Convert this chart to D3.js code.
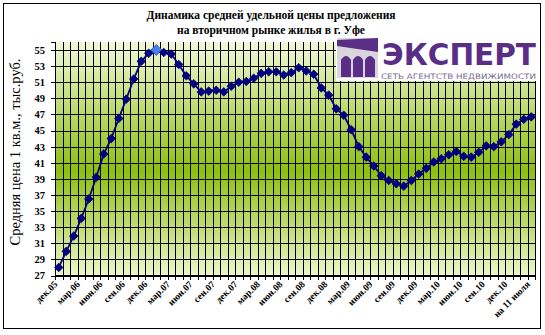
<!DOCTYPE html>
<html>
<head>
<meta charset="utf-8">
<script src="https://cdn.jsdelivr.net/npm/d3@7"></script>
<style>
  body { margin: 0; background: #fff; }
  svg { display: block; }
</style>
</head>
<body>
<script>
// chart size
var w = 545, h = 335;

// categories (months), the last one is the July 11 reading
var categories = [
    "дек.05",
    "янв.06", "фев.06", "мар.06", "апр.06", "май.06", "июн.06", "июл.06", "авг.06", "сен.06", "окт.06", "ноя.06", "дек.06",
    "янв.07", "фев.07", "мар.07", "апр.07", "май.07", "июн.07", "июл.07", "авг.07", "сен.07", "окт.07", "ноя.07", "дек.07",
    "янв.08", "фев.08", "мар.08", "апр.08", "май.08", "июн.08", "июл.08", "авг.08", "сен.08", "окт.08", "ноя.08", "дек.08",
    "янв.09", "фев.09", "мар.09", "апр.09", "май.09", "июн.09", "июл.09", "авг.09", "сен.09", "окт.09", "ноя.09", "дек.09",
    "янв.10", "фев.10", "мар.10", "апр.10", "май.10", "июн.10", "июл.10", "авг.10", "сен.10", "окт.10", "ноя.10", "дек.10",
    "мар.11", "июн.11", "на 11 июля"
];

// price per sq.m, thousand rub.
var prices = [
    28.0,
    30.0, 31.9, 34.1, 36.5, 39.2, 42.1, 44.0, 46.5, 48.9, 51.4, 53.6, 54.6,
    55.0, 54.7, 54.5, 53.2, 51.8, 50.8, 49.8, 49.9, 50.0, 49.8, 50.5, 51.0,
    51.1, 51.5, 52.1, 52.3, 52.3, 51.9, 52.2, 52.8, 52.4, 52.0, 50.3, 49.4,
    47.7, 46.9, 45.1, 43.0, 41.7, 40.6, 39.4, 38.8, 38.4, 38.1, 38.8, 39.6,
    40.3, 41.1, 41.5, 42.0, 42.4, 41.8, 41.7, 42.3, 43.1, 43.0, 43.6, 44.5,
    45.8, 46.4, 46.7
];

// labelled categories on the x axis
var xLabels = ["дек.05", "мар.06", "июн.06", "сен.06", "дек.06", "мар.07", "июн.07", "сен.07",
    "дек.07", "мар.08", "июн.08", "сен.08", "дек.08", "мар.09", "июн.09", "сен.09",
    "дек.09", "мар.10", "июн.10", "сен.10", "дек.10", "на 11 июля"];

var yTicks = [27, 29, 31, 33, 35, 37, 39, 41, 43, 45, 47, 49, 51, 53, 55];

// the highlighted peak point
var peakLabel = "янв.07";

var titleLines = ["Динамика средней удельной цены предложения", "на вторичном рынке жилья в г. Уфе"];

// plot box
var plotL = 55, plotR = 535, plotT = 42, plotB = 275.5;

var svg = d3.select("body")
    .append("svg")
    .attr("width", w)
    .attr("height", h);

// outer frame
svg.append("rect")
    .attr("x", 3.5).attr("y", 3.5)
    .attr("width", 537).attr("height", 325)
    .attr("fill", "#fff")
    .attr("stroke", "#000")
    .attr("stroke-width", 1);

// background gradient of the plot area
var grad = svg.append("defs").append("linearGradient")
    .attr("id", "bg")
    .attr("x1", 0).attr("y1", 0).attr("x2", 0).attr("y2", 1);
grad.append("stop").attr("offset", "0%").attr("stop-color", "#f3f8da");
grad.append("stop").attr("offset", "55%").attr("stop-color", "#8cbf10");
grad.append("stop").attr("offset", "100%").attr("stop-color", "#eef5cc");

var x = d3.scaleBand()
    .domain(categories)
    .range([plotL, plotR]);

var xb = d3.scaleLinear()
    .domain([0, categories.length])
    .range([plotL, plotR]);

var y = d3.scaleLinear()
    .domain([27, 56])
    .range([plotB, plotT]);

svg.append("rect")
    .attr("x", plotL).attr("y", plotT)
    .attr("width", plotR - plotL).attr("height", plotB - plotT)
    .attr("fill", "url(#bg)");

// horizontal grid
svg.append("g")
    .attr("transform", "translate(" + plotL + ",0)")
    .call(d3.axisLeft(y).tickValues(yTicks).tickSize(-(plotR - plotL)).tickFormat(""))
    .call(function(g){ g.select(".domain").remove(); })
    .selectAll("line")
    .attr("stroke", "#000")
    .attr("shape-rendering", "crispEdges");

// vertical grid, running a little below the axis as tick marks
svg.append("g")
    .attr("transform", "translate(0," + (plotB + 4) + ")")
    .call(d3.axisBottom(xb).tickValues(d3.range(categories.length + 1)).tickSize(-(plotB + 4 - plotT)).tickFormat(""))
    .call(function(g){ g.select(".domain").remove(); })
    .selectAll("line")
    .attr("stroke", "#000")
    .attr("shape-rendering", "crispEdges");

// y axis
var yAxis = svg.append("g")
    .attr("transform", "translate(" + plotL + ",0)")
    .call(d3.axisLeft(y).tickValues(yTicks).tickSize(4).tickPadding(6));
yAxis.select(".domain").attr("stroke", "#000").attr("shape-rendering", "crispEdges");
yAxis.selectAll("line").attr("stroke", "#000").attr("shape-rendering", "crispEdges");
yAxis.selectAll("text")
    .attr("font-family", "'Liberation Serif', 'Times New Roman', serif")
    .attr("font-size", 10.5)
    .attr("font-weight", "bold")
    .attr("fill", "#000");

// x axis line
svg.append("line")
    .attr("x1", plotL).attr("x2", plotR)
    .attr("y1", plotB).attr("y2", plotB)
    .attr("stroke", "#000")
    .attr("shape-rendering", "crispEdges");

// x labels
svg.append("g").selectAll("text")
    .data(xLabels)
    .enter()
    .append("text")
    .attr("transform", function(d){
        return "translate(" + (x(d) + x.bandwidth() / 2 - 3) + "," + (plotB + 7) + ") rotate(-45)";
    })
    .attr("text-anchor", "end")
    .attr("dy", "0.35em")
    .attr("font-family", "'Liberation Serif', 'Times New Roman', serif")
    .attr("font-size", 9.5)
    .attr("font-weight", "bold")
    .text(function(d){ return d; });

// the line
var line = d3.line()
    .x(function(d, i){ return x(categories[i]) + x.bandwidth() / 2; })
    .y(function(d){ return y(d); });

svg.append("path")
    .datum(prices)
    .attr("d", line)
    .attr("fill", "none")
    .attr("stroke", "#000080")
    .attr("stroke-width", 1.8);

// diamond markers
svg.append("g").selectAll("path")
    .data(prices)
    .enter()
    .append("path")
    .attr("transform", function(d, i){
        return "translate(" + (x(categories[i]) + x.bandwidth() / 2) + "," + y(d) + ")";
    })
    .attr("d", function(d, i){
        var r = categories[i] === peakLabel ? 5.5 : 4.3;
        return "M0," + (-r) + "L" + r + ",0L0," + r + "L" + (-r) + ",0Z";
    })
    .attr("fill", function(d, i){ return categories[i] === peakLabel ? "#4a80ee" : "#000080"; })
    .attr("stroke", function(d, i){ return categories[i] === peakLabel ? "#2a50c0" : "#000080"; })
    .attr("stroke-width", 0.8);

// title
svg.append("g").selectAll("text")
    .data(titleLines)
    .enter()
    .append("text")
    .attr("x", 271)
    .attr("y", function(d, i){ return 19 + i * 15; })
    .attr("text-anchor", "middle")
    .attr("font-family", "'Liberation Serif', 'Times New Roman', serif")
    .attr("font-size", 11.5)
    .attr("font-weight", "bold")
    .text(function(d){ return d; });

// y axis title
svg.append("text")
    .attr("transform", "translate(20,152) rotate(-90)")
    .attr("text-anchor", "middle")
    .attr("font-family", "'Liberation Serif', 'Times New Roman', serif")
    .attr("font-size", 14.5)
    .text("Средняя цена 1 кв.м., тыс.руб.");

// logo block
var logo = svg.append("g");
logo.append("rect")
    .attr("x", 336).attr("y", 36)
    .attr("width", 203).attr("height", 45)
    .attr("fill", "#fff");
logo.append("rect")
    .attr("x", 337).attr("y", 38)
    .attr("width", 41).attr("height", 40)
    .attr("fill", "#d9d5dd");
logo.append("path")
    .attr("d", "M337,40 L378,38 L378,52 L337,46 Z")
    .attr("fill", "#5a2d86");
[341, 353, 365].forEach(function(ax){
    logo.append("path")
        .attr("d", "M" + ax + ",77 L" + ax + ",60 Q" + (ax + 5) + ",52 " + (ax + 10) + ",60 L" + (ax + 10) + ",77 Z")
        .attr("fill", "#5a2d86");
});
logo.append("text")
    .attr("x", 382).attr("y", 65)
    .attr("textLength", 154)
    .attr("lengthAdjust", "spacingAndGlyphs")
    .attr("font-family", "'DejaVu Sans', sans-serif")
    .attr("font-size", 30)
    .attr("font-weight", "bold")
    .attr("fill", "#5a2d86")
    .text("ЭКСПЕРТ");
logo.append("text")
    .attr("x", 381).attr("y", 78.5)
    .attr("textLength", 155)
    .attr("lengthAdjust", "spacingAndGlyphs")
    .attr("font-family", "'DejaVu Sans', sans-serif")
    .attr("font-size", 7.5)
    .attr("fill", "#7d6c8e")
    .text("СЕТЬ АГЕНТСТВ НЕДВИЖИМОСТИ");
</script>
</body>
</html>
